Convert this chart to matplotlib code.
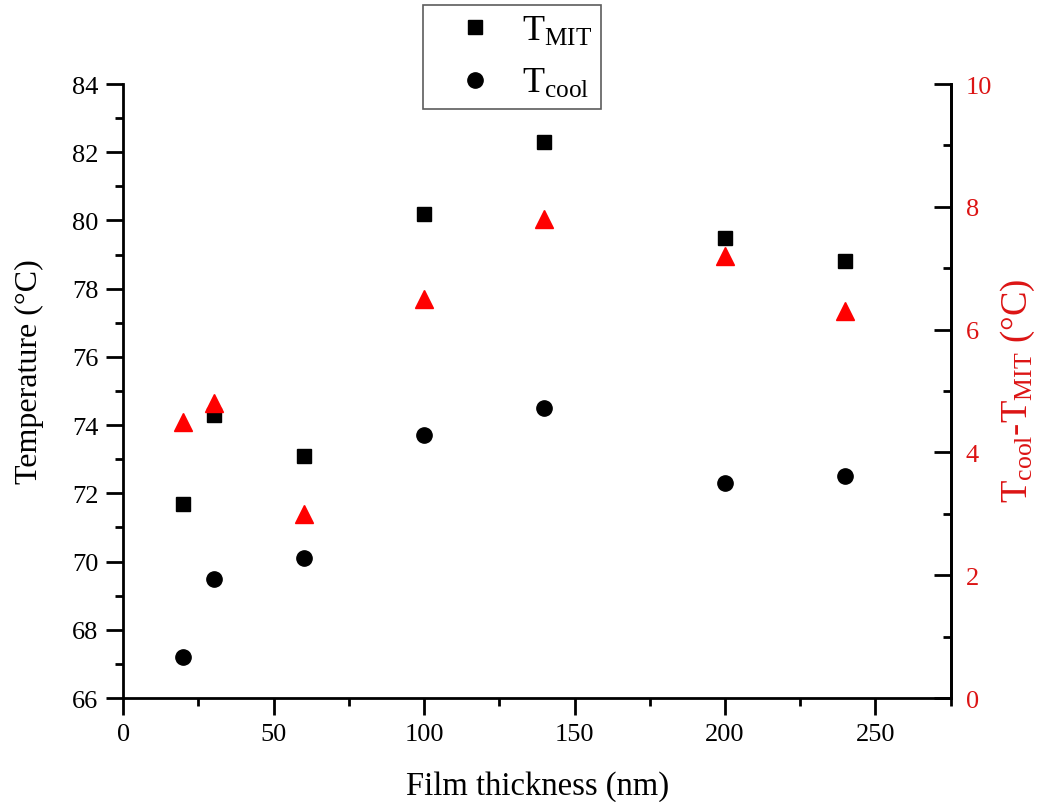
import matplotlib
matplotlib.use("Agg")
import matplotlib.pyplot as plt
from matplotlib.ticker import MultipleLocator

plt.rcParams['font.family'] = ['Liberation Serif', 'DejaVu Serif']
plt.rcParams['mathtext.fontset'] = 'custom'
plt.rcParams['mathtext.rm'] = 'Liberation Serif'
plt.rcParams['mathtext.it'] = 'Liberation Serif:italic'
plt.rcParams['mathtext.bf'] = 'Liberation Serif:bold'

# Film thickness (nm) and measured temperatures
thickness = [20, 30, 60, 100, 140, 200, 240]
t_mit = [71.7, 74.3, 73.1, 80.2, 82.3, 79.5, 78.8]
t_cool = [67.2, 69.5, 70.1, 73.7, 74.5, 72.3, 72.5]
# Hysteresis width T_MIT - T_cool
t_diff = [4.5, 4.8, 3.0, 6.5, 7.8, 7.2, 6.3]

red_mark = '#ff0000'
red_text = '#dc1414'

fig = plt.figure(figsize=(10.5, 8.03), dpi=100)
ax = fig.add_axes([0.1174, 0.1295, 0.788, 0.7646])

h1, = ax.plot(thickness, t_mit, 's', color='black', markersize=10, linestyle='none', label=r'T$_{\rm MIT}$')
h2, = ax.plot(thickness, t_cool, 'o', color='black', markersize=11, linestyle='none', label=r'T$_{\rm cool}$')

ax.set_xlim(0, 275)
ax.set_ylim(66, 84)
ax.xaxis.set_major_locator(MultipleLocator(50))
ax.xaxis.set_minor_locator(MultipleLocator(25))
ax.yaxis.set_major_locator(MultipleLocator(2))
ax.yaxis.set_minor_locator(MultipleLocator(1))
ax.tick_params(which='both', direction='out', width=2, labelsize=19, top=False, right=False)
ax.tick_params(which='major', length=12, pad=6)
ax.tick_params(which='minor', length=6)
ax.spines['top'].set_visible(False)
for s in ('left', 'bottom', 'right'):
    ax.spines[s].set_linewidth(2)
ax.set_xlabel('Film thickness (nm)', fontsize=23.5, va='baseline')
ax.xaxis.set_label_coords(0.5006, -0.156)
ax.set_ylabel('Temperature (°C)', fontsize=23, va='center')
ax.yaxis.set_label_coords(-0.113, 0.533)

ax2 = ax.twinx()
ax2.plot(thickness, t_diff, '^', color=red_mark, markersize=13, linestyle='none')
ax2.set_ylim(0, 10)
ax2.yaxis.set_major_locator(MultipleLocator(2))
ax2.yaxis.set_minor_locator(MultipleLocator(1))
ax2.tick_params(axis='y', which='both', direction='in', width=2, labelsize=19,
                labelcolor=red_text, color='black')
ax2.tick_params(axis='y', which='major', length=12, pad=11)
ax2.tick_params(axis='y', which='minor', length=6)
ax2.spines['top'].set_visible(False)
ax2.spines['right'].set_linewidth(2)
ax2.spines['left'].set_visible(False)
ax2.spines['bottom'].set_visible(False)
ax2.set_ylabel(r'T$_{\rm cool}$-T$_{\rm MIT}$ (°C)', fontsize=26.5, color=red_text, va='center')
ax2.yaxis.set_label_coords(1.081, 0.502)

leg = fig.legend(handles=[h1, h2], loc='upper left', bbox_to_anchor=(0.403, 0.992),
                 fontsize=26, frameon=True, fancybox=False, edgecolor='#333333',
                 borderpad=0.25, handletextpad=0.1, labelspacing=0.53, handlelength=2.39,
                 borderaxespad=0)
leg.get_frame().set_linewidth(1.2)

fig.savefig('out.png', dpi=100, facecolor='white')
